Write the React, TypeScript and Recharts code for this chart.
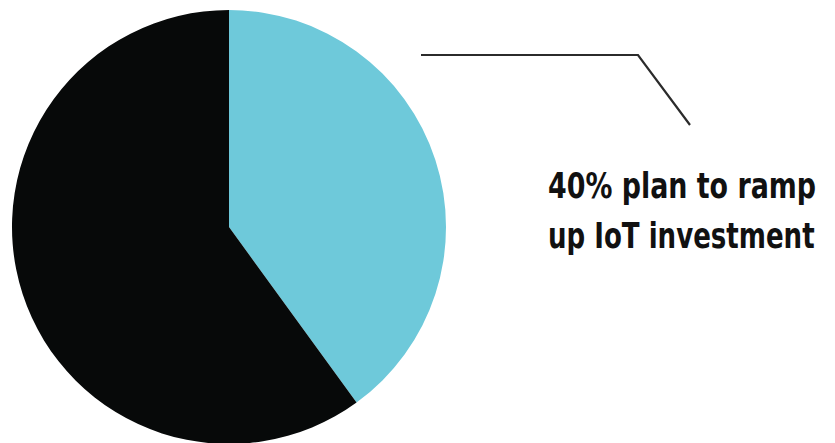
import { Cell, Pie, PieChart } from "recharts";

const segments = ["Plan to ramp up IoT investment", "Other"];
const shares = [40, 60];
const colors = ["#6ec9da", "#070909"];
const calloutLines = ["40% plan to ramp", "up IoT investment"];

const data = segments.map((name, i) => ({ name, value: shares[i] }));

if (typeof document !== "undefined") document.body.style.margin = "0";

// callout drawn off the first slice, positioned relative to the pie centre
function Callout(props: any) {
  const { cx, cy, index } = props;
  if (index !== 0) return null;
  const pts = `${cx + 192},${cy - 172} ${cx + 409},${cy - 172} ${cx + 461},${cy - 102}`;
  const tx = cx + 319;
  const squeeze = [0.83, 0.805];
  return (
    <g>
      <polyline points={pts} fill="none" stroke="#2b2b2b" strokeWidth={2.2} />
      {calloutLines.map((t, i) => (
        <g key={t} transform={`translate(${tx},${cy - 29 + i * 50}) scale(${squeeze[i]},1)`}>
          <text
            x={0}
            y={0}
            fill="#111"
            fontFamily="'DejaVu Sans Condensed', 'Liberation Sans Narrow', sans-serif"
            fontWeight={700}
            fontSize={36}
          >
            {t}
          </text>
        </g>
      ))}
    </g>
  );
}

export default function App() {
  return (
    <div style={{ width: 835, height: 443, background: "#fff" }}>
      <PieChart width={835} height={443} margin={{ top: 0, right: 0, bottom: 0, left: 0 }}>
        <Pie
          data={data}
          dataKey="value"
          nameKey="name"
          cx={229}
          cy={227}
          outerRadius={217}
          startAngle={90}
          endAngle={-270}
          stroke="none"
          label={Callout}
          labelLine={false}
          isAnimationActive={false}
        >
          {data.map((d, i) => (
            <Cell key={d.name} fill={colors[i]} />
          ))}
        </Pie>
      </PieChart>
    </div>
  );
}
